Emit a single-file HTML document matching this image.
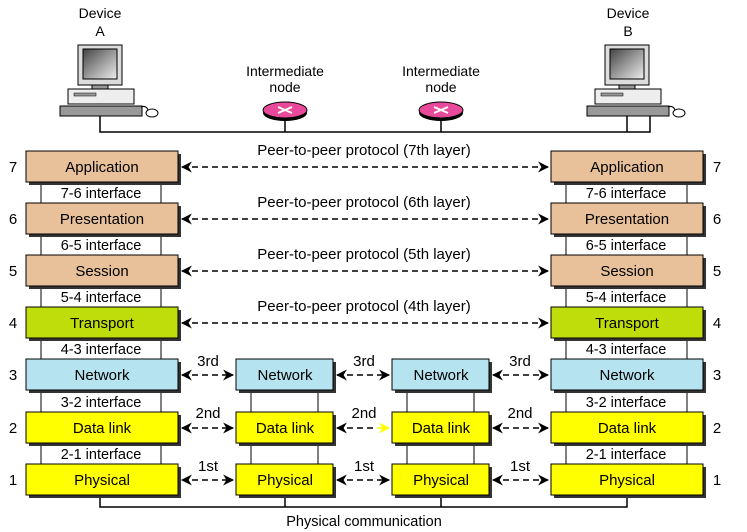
<!DOCTYPE html>
<html><head><meta charset="utf-8"><style>
body{margin:0;background:#fff}
svg{display:block;font-family:"Liberation Sans",sans-serif}
</style></head><body>
<svg width="747" height="532" viewBox="0 0 747 532" xmlns="http://www.w3.org/2000/svg">
<defs>
<marker id="a" viewBox="0 0 10 10" refX="9" refY="5" markerWidth="11" markerHeight="11" orient="auto-start-reverse" markerUnits="userSpaceOnUse"><path d="M0,0 L10,5 L0,10 L3,5 z" fill="#000"/></marker>
<marker id="y" viewBox="0 0 10 10" refX="9" refY="5" markerWidth="11" markerHeight="11" orient="auto" markerUnits="userSpaceOnUse"><path d="M0,0 L10,5 L0,10 L3,5 z" fill="#ff0"/></marker>
<linearGradient id="g" x1="0" y1="0" x2="1" y2="1"><stop offset="0" stop-color="#444"/><stop offset="1" stop-color="#eee"/></linearGradient>
<g id="pc">
<rect x="-22" y="0" width="44" height="40" fill="#ddd" stroke="#000"/>
<rect x="-17" y="4" width="34" height="30" fill="url(#g)" stroke="#000"/>
<rect x="-8" y="40" width="16" height="4" fill="#999" stroke="#000"/>
<rect x="-32" y="44" width="66" height="15" fill="#eee" stroke="#000"/>
<rect x="-26" y="48" width="22" height="3" fill="#999" stroke="#000" stroke-width=".5"/>
<rect x="-40" y="61" width="82" height="10" fill="#999" stroke="#000"/>
<ellipse cx="52" cy="68" rx="6" ry="4" fill="#fff" stroke="#000"/>
<path d="M41,62 Q46,60 48,65" fill="none" stroke="#000"/>
</g>
</defs>
<g font-size="14" text-anchor="middle">
<text x="100" y="18">Device</text><text x="100" y="36">A</text>
<text x="628" y="18">Device</text><text x="628" y="36">B</text>
<text x="285" y="76">Intermediate</text><text x="285" y="92">node</text>
<text x="441" y="76">Intermediate</text><text x="441" y="92">node</text>
</g>
<use href="#pc" x="100" y="45"/>
<use href="#pc" x="627" y="45"/>
<path d="M100,116 V132 H650 V116 M627,116 V132" fill="none" stroke="#000" stroke-width="1.5"/>
<path d="M285,118 V132 M441,118 V132" stroke="#000" stroke-width="1.5"/>
<ellipse cx="285" cy="113" rx="22" ry="8" fill="#000"/>
<ellipse cx="285" cy="110" rx="22" ry="8" fill="#e8499b" stroke="#000"/>
<path d="M278,107 L292,113 M278,113 L292,107" stroke="#fff" stroke-width="2"/>
<ellipse cx="441" cy="113" rx="22" ry="8" fill="#000"/>
<ellipse cx="441" cy="110" rx="22" ry="8" fill="#e8499b" stroke="#000"/>
<path d="M434,107 L448,113 M434,113 L448,107" stroke="#fff" stroke-width="2"/>

<rect x="41" y="182" width="120" height="282" fill="#fff" stroke="#000"/>
<rect x="566" y="182" width="121" height="282" fill="#fff" stroke="#000"/>
<path d="M251,390 V464 M318,390 V464 M407,390 V464 M474,390 V464" stroke="#000"/>
<g font-size="14.5" text-anchor="middle">
<text x="101" y="198">7-6 interface</text><text x="626" y="198">7-6 interface</text>
<text x="101" y="250">6-5 interface</text><text x="626" y="250">6-5 interface</text>
<text x="101" y="302">5-4 interface</text><text x="626" y="302">5-4 interface</text>
<text x="101" y="354">4-3 interface</text><text x="626" y="354">4-3 interface</text>
<text x="101" y="407">3-2 interface</text><text x="626" y="407">3-2 interface</text>
<text x="101" y="459">2-1 interface</text><text x="626" y="459">2-1 interface</text>
</g>
<path d="M100,494 V507 H627 V494 M285,494 V507 M441,494 V507" fill="none" stroke="#000" stroke-width="1.5"/>
<text x="364" y="526" font-size="14.5" text-anchor="middle">Physical communication</text>

<g stroke="#000" stroke-width="1">
<g fill="#333" stroke="none">
<rect x="29" y="154" width="152" height="31"/><rect x="554" y="154" width="152" height="31"/>
<rect x="29" y="206" width="152" height="31"/><rect x="554" y="206" width="152" height="31"/>
<rect x="29" y="258" width="152" height="31"/><rect x="554" y="258" width="152" height="31"/>
<rect x="29" y="310" width="152" height="31"/><rect x="554" y="310" width="152" height="31"/>
<rect x="29" y="362" width="152" height="31"/><rect x="554" y="362" width="152" height="31"/><rect x="239" y="362" width="97" height="31"/><rect x="395" y="362" width="97" height="31"/>
<rect x="29" y="415" width="152" height="31"/><rect x="554" y="415" width="152" height="31"/><rect x="239" y="415" width="97" height="31"/><rect x="395" y="415" width="97" height="31"/>
<rect x="29" y="467" width="152" height="31"/><rect x="554" y="467" width="152" height="31"/><rect x="239" y="467" width="97" height="31"/><rect x="395" y="467" width="97" height="31"/>
</g>
<g fill="#e8c09a">
<rect x="26" y="151" width="152" height="31"/><rect x="551" y="151" width="152" height="31"/>
<rect x="26" y="203" width="152" height="31"/><rect x="551" y="203" width="152" height="31"/>
<rect x="26" y="255" width="152" height="31"/><rect x="551" y="255" width="152" height="31"/>
</g>
<g fill="#bfdd0a"><rect x="26" y="307" width="152" height="31"/><rect x="551" y="307" width="152" height="31"/></g>
<g fill="#b5e3f0"><rect x="26" y="359" width="152" height="31"/><rect x="551" y="359" width="152" height="31"/><rect x="236" y="359" width="97" height="31"/><rect x="392" y="359" width="97" height="31"/></g>
<g fill="#ffff00">
<rect x="26" y="412" width="152" height="31"/><rect x="551" y="412" width="152" height="31"/><rect x="236" y="412" width="97" height="31"/><rect x="392" y="412" width="97" height="31"/>
<rect x="26" y="464" width="152" height="31"/><rect x="551" y="464" width="152" height="31"/><rect x="236" y="464" width="97" height="31"/><rect x="392" y="464" width="97" height="31"/>
</g>
</g>
<g font-size="15" text-anchor="middle">
<text x="102" y="172">Application</text><text x="627" y="172">Application</text>
<text x="102" y="224">Presentation</text><text x="627" y="224">Presentation</text>
<text x="102" y="276">Session</text><text x="627" y="276">Session</text>
<text x="102" y="328">Transport</text><text x="627" y="328">Transport</text>
<text x="102" y="380">Network</text><text x="627" y="380">Network</text><text x="285" y="380">Network</text><text x="441" y="380">Network</text>
<text x="102" y="433">Data link</text><text x="627" y="433">Data link</text><text x="285" y="433">Data link</text><text x="441" y="433">Data link</text>
<text x="102" y="485">Physical</text><text x="627" y="485">Physical</text><text x="285" y="485">Physical</text><text x="441" y="485">Physical</text>
<text x="13" y="172">7</text><text x="717" y="172">7</text>
<text x="13" y="224">6</text><text x="717" y="224">6</text>
<text x="13" y="276">5</text><text x="717" y="276">5</text>
<text x="13" y="328">4</text><text x="717" y="328">4</text>
<text x="13" y="380">3</text><text x="717" y="380">3</text>
<text x="13" y="433">2</text><text x="717" y="433">2</text>
<text x="13" y="485">1</text><text x="717" y="485">1</text>
<text x="364" y="155">Peer-to-peer protocol (7th layer)</text>
<text x="364" y="207">Peer-to-peer protocol (6th layer)</text>
<text x="364" y="259">Peer-to-peer protocol (5th layer)</text>
<text x="364" y="311">Peer-to-peer protocol (4th layer)</text>
<text x="208" y="366">3rd</text><text x="364" y="366">3rd</text><text x="520" y="366">3rd</text>
<text x="208" y="418">2nd</text><text x="364" y="418">2nd</text><text x="520" y="418">2nd</text>
<text x="208" y="471">1st</text><text x="364" y="471">1st</text><text x="520" y="471">1st</text>
</g>
<g stroke="#000" stroke-width="1.5" stroke-dasharray="6,4" fill="none" marker-start="url(#a)" marker-end="url(#a)">
<path d="M182,167 H548"/><path d="M182,219 H548"/><path d="M182,271 H548"/><path d="M182,323 H548"/>
<path d="M182,375 H233"/><path d="M337,375 H389"/><path d="M493,375 H548"/>
<path d="M182,428 H233"/><path d="M493,428 H548"/>
<path d="M182,480 H233"/><path d="M337,480 H389"/><path d="M493,480 H548"/>
</g>
<path d="M337,428 H375" stroke="#000" stroke-width="1.5" stroke-dasharray="6,4" marker-start="url(#a)"/>
<path d="M377,428 H389" stroke="#ff0" stroke-width="1.5" marker-end="url(#y)"/>
</svg>
</body></html>
